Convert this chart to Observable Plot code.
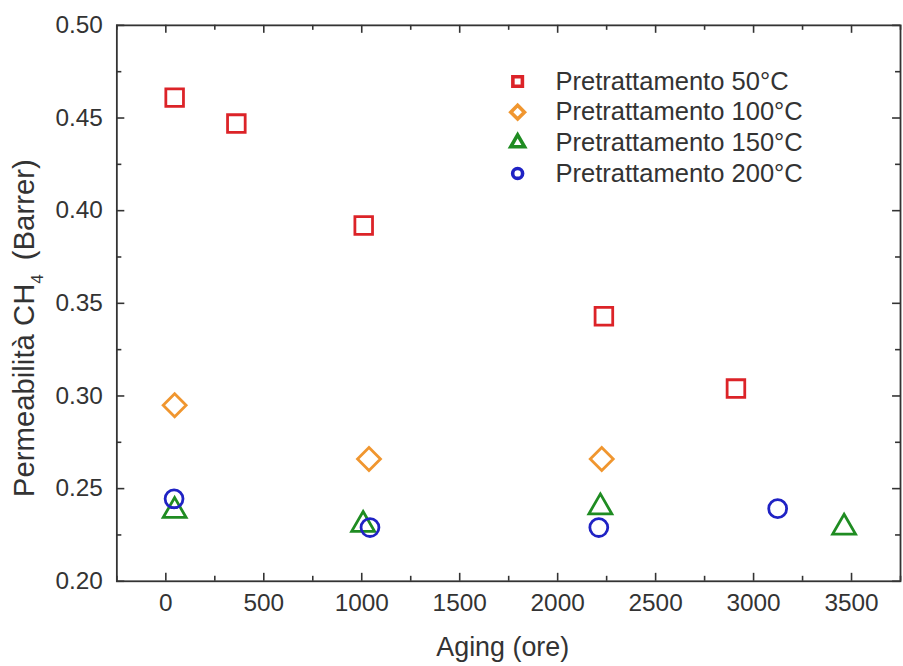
<!DOCTYPE html>
<html>
<head>
<meta charset="utf-8">
<script src="https://cdn.jsdelivr.net/npm/d3@7"></script>
<script src="https://cdn.jsdelivr.net/npm/@observablehq/plot@0.6"></script>
<style>
  html, body { margin: 0; padding: 0; background: #fff; overflow: hidden; }
  svg { display: block; }
</style>
</head>
<body>
<div id="chart"></div>
<script>
// ---- Data ----
const seriesNames = ["Pretrattamento 50°C", "Pretrattamento 100°C", "Pretrattamento 150°C", "Pretrattamento 200°C"];
const seriesSymbols = ["square", "diamond2", "triangle2", "circle"];
const seriesColors = ["#dc2328", "#f0962f", "#1f8c22", "#1f22c4"];

const aging50 = [45, 360, 1010, 2236, 2910];
const perm50 = [0.461, 0.447, 0.392, 0.343, 0.304];

const aging100 = [45, 1037, 2225];
const perm100 = [0.295, 0.266, 0.266];

const aging150 = [45, 1007, 2218, 3462];
const perm150 = [0.238, 0.2305, 0.240, 0.229];

const aging200 = [42, 1042, 2210, 3123];
const perm200 = [0.2445, 0.229, 0.229, 0.2392];

const xMajorTicks = [0, 500, 1000, 1500, 2000, 2500, 3000, 3500];
const xMinorTicks = [-250, 250, 750, 1250, 1750, 2250, 2750, 3250, 3750];
const yMajorTicks = [0.20, 0.25, 0.30, 0.35, 0.40, 0.45, 0.50];
const yMinorTicks = [0.225, 0.275, 0.325, 0.375, 0.425, 0.475];

const xTitle = "Aging (ore)";
const yTitle = "Permeabilità CH₄ (Barrer)";

// ---- Build table ----
const allX = [aging50, aging100, aging150, aging200];
const allY = [perm50, perm100, perm150, perm200];
const table = seriesNames.map((name, s) => allX[s].map((x, i) => ({series: name, s, x, y: allY[s][i]})));

// ---- Layout ----
const W = 908, H = 666;
const mL = 117, mR = 3, mT = 25, mB = 82;
const plotW = W - mL - mR;
const plotH = H - mT - mB;
const axisColor = "#333";
const textColor = "#333";
const majorLen = 8, minorLen = 5;

const dataR = [10, 10.4, 11, 9];
const legendR = [5.4, 6.2, 6.6, 5];

const marks = [
  // ticks (inward, mirrored on all four sides)
  Plot.tickX(xMajorTicks, {insetTop: plotH - majorLen, stroke: axisColor, strokeWidth: 1.6}),
  Plot.tickX(xMajorTicks, {insetBottom: plotH - majorLen, stroke: axisColor, strokeWidth: 1.6}),
  Plot.tickX(xMinorTicks, {insetTop: plotH - minorLen, stroke: axisColor, strokeWidth: 1.6}),
  Plot.tickX(xMinorTicks, {insetBottom: plotH - minorLen, stroke: axisColor, strokeWidth: 1.6}),
  Plot.tickY(yMajorTicks, {insetRight: plotW - majorLen, stroke: axisColor, strokeWidth: 1.6}),
  Plot.tickY(yMajorTicks, {insetLeft: plotW - majorLen, stroke: axisColor, strokeWidth: 1.6}),
  Plot.tickY(yMinorTicks, {insetRight: plotW - minorLen, stroke: axisColor, strokeWidth: 1.6}),
  Plot.tickY(yMinorTicks, {insetLeft: plotW - minorLen, stroke: axisColor, strokeWidth: 1.6}),
  Plot.frame({stroke: axisColor, strokeWidth: 1.8}),
  // tick labels
  Plot.text(xMajorTicks, {x: d => d, frameAnchor: "bottom", dy: 22, lineAnchor: "middle", textAnchor: "middle",
    text: d => String(d), fontSize: 24.5, fill: textColor}),
  Plot.text(yMajorTicks, {y: d => d, frameAnchor: "left", dx: -14, textAnchor: "end", lineAnchor: "middle",
    text: d => d.toFixed(2), fontSize: 24.5, fill: textColor}),
  // axis titles
  Plot.text([xTitle], {frameAnchor: "bottom", dy: 66, dx: -6, lineAnchor: "middle", textAnchor: "middle",
    text: d => d, fontSize: 27, fill: textColor}),
  Plot.text([yTitle], {frameAnchor: "left", dx: -93, dy: 25, rotate: -90, lineAnchor: "middle", textAnchor: "middle",
    text: d => d, fontSize: 29.5, fill: textColor}),
  // data
  ...table.map((rows, s) => Plot.dot(rows, {
    x: "x", y: "y", symbol: () => seriesSymbols[s], r: dataR[s],
    stroke: seriesColors[s], strokeWidth: 2.8, fill: "none"
  })),
  // legend
  ...seriesNames.map((name, i) => Plot.dot([name], {
    frameAnchor: "top-left", dx: 403, dy: 56.5 + 30.8 * i,
    symbol: seriesSymbols[i], r: legendR[i], stroke: seriesColors[i], strokeWidth: 3.6, fill: "none"
  })),
  ...seriesNames.map((name, i) => Plot.text([name], {
    frameAnchor: "top-left", dx: 441, dy: 56.5 + 30.8 * i, lineAnchor: "middle",
    text: d => d, textAnchor: "start", fontSize: 25.7, fill: textColor
  }))
];

const chart = Plot.plot({
  width: W, height: H,
  marginLeft: mL, marginRight: mR, marginTop: mT, marginBottom: mB,
  x: {domain: [-250, 3750], axis: null},
  y: {domain: [0.2, 0.5], axis: null},
  symbol: {type: "identity"},
  style: {fontFamily: "'Liberation Sans', Arial, sans-serif", background: "#fff", overflow: "visible"},
  marks
});

document.getElementById("chart").appendChild(chart);

// render the CH4 subscript as a real subscript
chart.querySelectorAll("text").forEach(t => {
  if (t.textContent === yTitle) {
    const parts = yTitle.split("₄");
    t.textContent = "";
    const ns = "http://www.w3.org/2000/svg";
    const a = document.createElementNS(ns, "tspan"); a.textContent = parts[0];
    const b = document.createElementNS(ns, "tspan"); b.textContent = "4"; b.setAttribute("font-size", "17"); b.setAttribute("dy", "9");
    const c = document.createElementNS(ns, "tspan"); c.textContent = "\u2009" + parts[1]; c.setAttribute("dy", "-9");
    t.appendChild(a); t.appendChild(b); t.appendChild(c);
  }
});
</script>
</body>
</html>
